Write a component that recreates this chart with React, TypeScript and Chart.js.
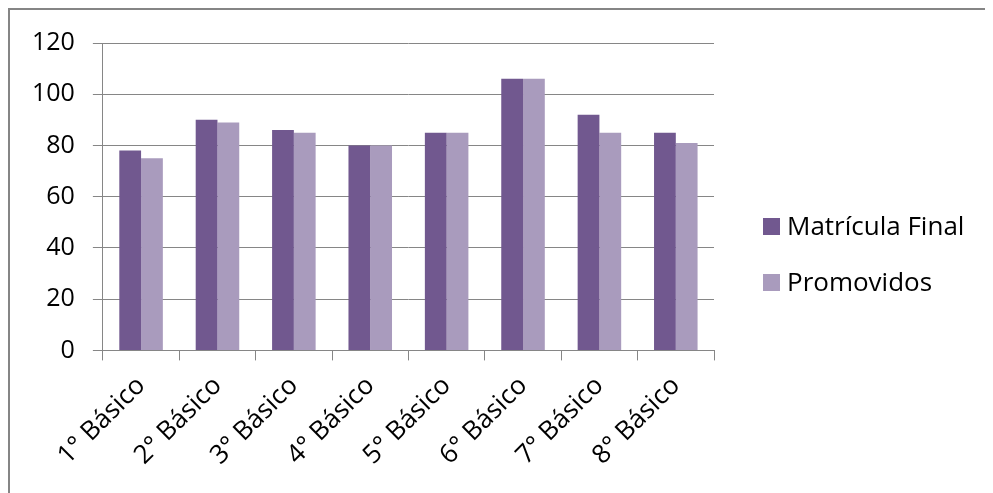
import React, { useEffect, useRef } from "react";
import { Chart, registerables } from "chart.js";

Chart.register(...registerables);

const categories = ["1° Básico", "2° Básico", "3° Básico", "4° Básico", "5° Básico", "6° Básico", "7° Básico", "8° Básico"];
const matriculaFinal = [78, 90, 86, 80, 85, 106, 92, 85];
const promovidos = [75, 89, 85, 80, 85, 106, 85, 81];
const seriesNames = ["Matrícula Final", "Promovidos"];
const yTickValues = [0, 20, 40, 60, 80, 100, 120];

const FONT = "'Open Sans', sans-serif";

const sideLegend = {
  id: "sideLegend",
  afterDraw(chart: any) {
    const ctx = chart.ctx;
    const area = chart.chartArea;
    const box = 17;
    const step = 56;
    const x = area.right + 49;
    const n = chart.data.datasets.length;
    const centerY = chart.height / 2 + 3;
    ctx.save();
    ctx.font = `26px ${FONT}`;
    ctx.textBaseline = "middle";
    ctx.textAlign = "left";
    chart.data.datasets.forEach((ds: any, i: number) => {
      const cy = centerY + (i - (n - 1) / 2) * step;
      ctx.fillStyle = ds.backgroundColor;
      ctx.fillRect(x, cy - box / 2, box, box);
      ctx.fillStyle = "#000";
      ctx.fillText(ds.label, x + box + 7, cy + 1);
    });
    ctx.restore();
  },
};

export default function App() {
  const ref = useRef<HTMLCanvasElement | null>(null);
  useEffect(() => {
    if (!ref.current) return;
    const chart = new Chart(ref.current, {
      type: "bar",
      data: {
        labels: categories,
        datasets: [
          { label: seriesNames[0], data: matriculaFinal, backgroundColor: "#71588F", categoryPercentage: 0.57, barPercentage: 1.0 },
          { label: seriesNames[1], data: promovidos, backgroundColor: "#A99BBD", categoryPercentage: 0.57, barPercentage: 1.0 },
        ],
      },
      plugins: [sideLegend],
      options: {
        animation: false,
        responsive: false,
        maintainAspectRatio: false,
        layout: { padding: { left: 4, top: 27, right: 279, bottom: 12 } },
        plugins: {
          tooltip: { enabled: false },
          legend: { display: false },
        },
        scales: {
          x: {
            grid: { display: true, drawOnChartArea: false, drawTicks: true, tickLength: 10, color: "#868686" },
            border: { display: true, color: "#868686" },
            ticks: { font: { family: FONT, size: 26 }, color: "#000", maxRotation: 45, minRotation: 45, padding: 10 },
          },
          y: {
            min: yTickValues[0],
            max: yTickValues[yTickValues.length - 1],
            grid: { color: "#868686", tickLength: 10 },
            border: { display: true, color: "#868686" },
            ticks: { stepSize: 20, font: { family: FONT, size: 25 }, color: "#000", padding: 18 },
          },
        },
      },
    });
    return () => chart.destroy();
  }, []);
  return (
    <div style={{ width: 985, height: 485, borderLeft: "2px solid #858585", borderTop: "2px solid #858585", boxSizing: "border-box", background: "#fff" }}>
      <canvas ref={ref} width={983} height={483} style={{ display: "block" }} />
    </div>
  );
}
